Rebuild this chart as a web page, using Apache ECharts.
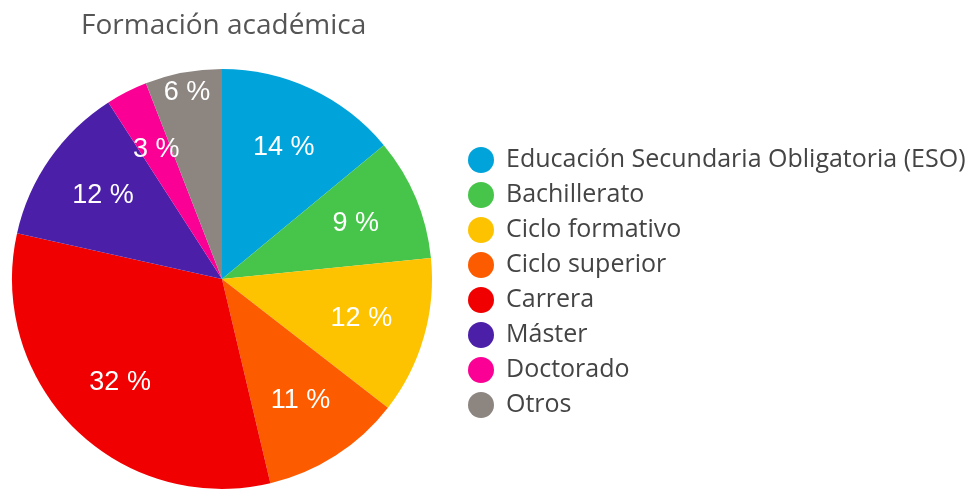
<!DOCTYPE html>
<html>
<head>
<meta charset="utf-8">
<script src="https://cdn.jsdelivr.net/npm/echarts@6/dist/echarts.min.js"></script>
<style>
  html, body { margin: 0; padding: 0; background: #fff; }
  #chart { width: 974px; height: 490px; }
</style>
</head>
<body>
<div id="chart"></div>
<script>
const categories = ['Educación Secundaria Obligatoria (ESO)', 'Bachillerato', 'Ciclo formativo', 'Ciclo superior', 'Carrera', 'Máster', 'Doctorado', 'Otros']
const shares = [14, 9.4, 12.1, 10.8, 32.2, 12.4, 3.2, 5.9]
const colors = ['#00a3da', '#47c54a', '#fdc300', '#fd5b00', '#f00000', '#4b1fa8', '#fb0094', '#8c8580']

const pieData = categories.map((name, i) => ({ name: name, value: shares[i] }))
const labelFont = { color: '#fff', fontFamily: 'Liberation Sans', fontSize: 27 }
const pct = p => Math.round(p.value) + ' %'

const chart = echarts.init(document.getElementById('chart'))
chart.setOption({
  animation: false,
  color: colors,
  title: {
    text: 'Formación académica',
    left: 76,
    top: 7,
    textStyle: { fontFamily: 'Open Sans', fontSize: 28, fontWeight: 'normal', color: '#555' }
  },
  legend: {
    orient: 'vertical',
    left: 463,
    top: 142,
    icon: 'circle',
    itemWidth: 26,
    itemHeight: 26,
    itemGap: 9,
    data: categories,
    textStyle: { fontFamily: 'Open Sans', fontSize: 25, color: '#444', padding: [0, 0, 0, 7] }
  },
  series: [
    {
      // filled wedges
      type: 'pie',
      center: [222, 279],
      radius: [0, 210],
      startAngle: 90,
      clockwise: true,
      silent: true,
      label: { show: false },
      labelLine: { show: false },
      data: pieData
    },
    {
      // labels for most slices
      type: 'pie',
      center: [222, 279],
      radius: [74, 210],
      startAngle: 90,
      silent: true,
      legendHoverLink: false,
      itemStyle: { color: 'transparent' },
      labelLine: { show: false },
      label: Object.assign({ show: true, position: 'inside', formatter: pct }, labelFont),
      data: pieData.map(d => d.name === 'Otros' ? Object.assign({}, d, { label: { show: false } }) : d)
    },
    {
      // 'Otros' label sits further out
      type: 'pie',
      center: [222, 279],
      radius: [164, 210],
      startAngle: 90,
      silent: true,
      legendHoverLink: false,
      itemStyle: { color: 'transparent' },
      labelLine: { show: false },
      label: Object.assign({ show: false, position: 'inside', formatter: pct }, labelFont),
      data: pieData.map(d => d.name === 'Otros' ? Object.assign({}, d, { label: { show: true } }) : d)
    }
  ]
})
</script>
</body>
</html>
